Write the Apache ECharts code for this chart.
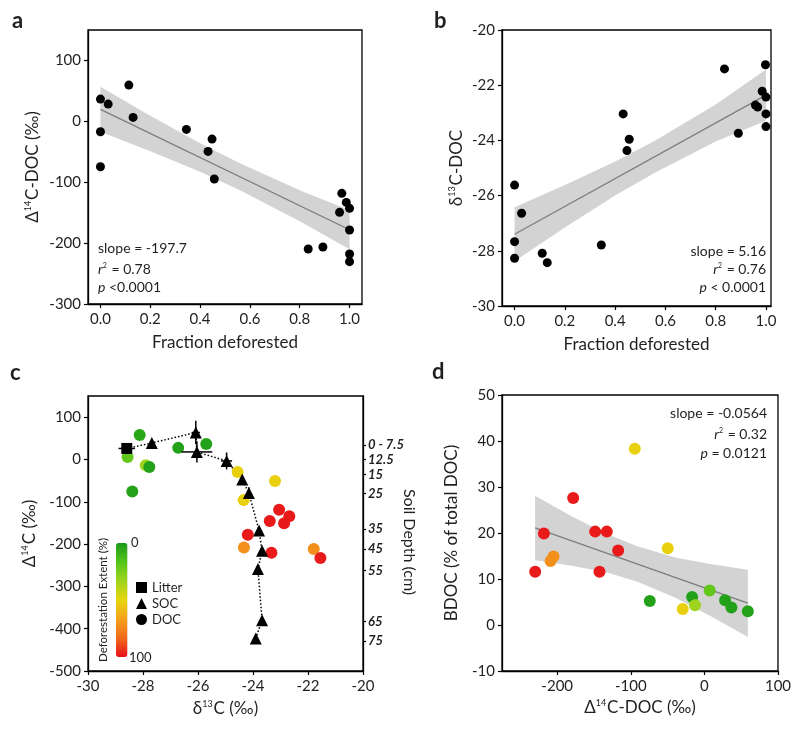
<!DOCTYPE html>
<html><head><meta charset="utf-8">
<script src="https://cdn.jsdelivr.net/npm/echarts@6/dist/echarts.min.js"></script>
<style>html,body{margin:0;padding:0;background:#fff}#chart{width:800px;height:730px}</style>
</head><body><div id="chart"></div>
<script>
const FONT = 'Lato';
const INK = '#231f20';
const TICK = 15;

// ---------- Panel a: fraction deforested vs Δ14C-DOC ----------
const fracA = [0.0, 0.031, 0.114, 0.131, 0.0, 0.0, 0.345, 0.448, 0.432, 0.457, 0.969, 0.987, 1.0, 0.96, 1.0, 0.834, 0.893, 1.0, 1.0];
const d14A  = [36.5, 28.3, 59.5, 6.4, -17.2, -74.6, -13.3, -29.2, -49.4, -94.8, -118.3, -133.1, -142.9, -149.5, -178.5, -209.7, -206.4, -217.9, -230.5];
const fitAX = [0, 1];
const fitAY = [19.6, -178.1];
const bandAX  = [0, 0.2, 0.4, 0.56, 0.8, 1.0];
const bandALo = [-17, -49, -83, -113, -164, -210];
const bandAHi = [57, 9, -36, -69, -113, -146];

// ---------- Panel b: fraction deforested vs δ13C-DOC ----------
const fracB = [0.0, 0.028, 0.0, 0.0, 0.11, 0.13, 0.345, 0.432, 0.456, 0.447, 0.835, 0.998, 0.985, 1.0, 0.958, 0.967, 1.0, 1.0, 0.89];
const d13B  = [-25.62, -26.64, -27.67, -28.27, -28.09, -28.43, -27.79, -23.04, -23.96, -24.37, -21.41, -21.26, -22.22, -22.43, -22.72, -22.79, -23.04, -23.50, -23.74];
const fitBX = [0, 1];
const fitBY = [-27.40, -22.36];
const bandBX  = [0, 0.2, 0.4, 0.56, 0.8, 1.0];
const bandBLo = [-28.38, -27.16, -26.0, -25.16, -24.04, -23.29];
const bandBHi = [-26.42, -25.62, -24.76, -24.0, -22.70, -21.43];

// ---------- Panel c: δ13C vs Δ14C ----------
const docCX  = [-28.12, -28.56, -27.90, -27.77, -28.39, -26.72, -25.70, -24.56, -23.2, -24.34, -24.33, -21.79, -23.05, -22.68, -23.39, -22.87, -24.19, -23.33, -21.55];
const docCY  = [58, 6, -13.7, -17.6, -76, 27.4, 36.8, -29.5, -50.8, -95.8, -207.9, -211.8, -118.7, -134.5, -145.5, -151, -177.9, -220.5, -233];
const docCDef = [5, 20, 33, 3, 3, 3, 3, 52, 52, 52, 72, 72, 98, 98, 98, 98, 98, 98, 98];
const litterX = [-28.59], litterY = [26], litterXErr = [0.3], litterYErr = [12];
const socX = [-27.68, -26.08, -26.04, -24.96, -24.39, -24.15, -23.78, -23.67, -23.82, -23.67, -23.9];
const socY = [39, 63.7, 17.8, -3.5, -47.6, -79.5, -168, -216, -259, -380, -423];
const socXErr = [0, 0.15, 0.56, 0.2, 0, 0, 0, 0, 0, 0, 0];
const socYErr = [0, 28, 25, 20, 8, 14, 0, 0, 0, 0, 0];
const depthPos = [34, 0, -36, -81, -164, -212, -263, -383, -429];
const depthLbl = ['0 - 7.5', '12.5', '15', '25', '35', '45', '55', '65', '75'];

// ---------- Panel d: Δ14C-DOC vs BDOC ----------
const d14D  = [-94.6, -178.3, -218.1, -148.4, -132.6, -117.2, -49.8, -205, -209, -229.9, -142.5, -74.2, -29.4, -16.7, -12.7, 7.2, 28.1, 36.7, 59];
const bdocD = [38.3, 27.6, 19.9, 20.3, 20.3, 16.2, 16.7, 14.9, 13.9, 11.6, 11.6, 5.2, 3.5, 6.1, 4.3, 7.5, 5.4, 3.8, 3.0];
const defD  = [52, 98, 98, 98, 98, 98, 52, 72, 72, 98, 98, 3, 52, 3, 33, 20, 3, 3, 3];
const fitDX = [-230, 59];
const fitDY = [21.1, 4.74];
const bandDX  = [-230, -180, -130, -91, -40, 10, 59];
const bandDLo = [14.1, 12.9, 11.3, 9.4, 6.0, 1.8, -2.6];
const bandDHi = [28.1, 23.6, 19.6, 17.1, 14.7, 13.2, 12.0];

// ticks
const ticksAX = [0, 0.2, 0.4, 0.6, 0.8, 1.0];
const ticksAY = [-300, -200, -100, 0, 100];
const ticksBY = [-30, -28, -26, -24, -22, -20];
const ticksCX = [-30, -28, -26, -24, -22, -20];
const ticksCY = [-500, -400, -300, -200, -100, 0, 100];
const ticksDX = [-200, -100, 0, 100];
const ticksDY = [-10, 0, 10, 20, 30, 40, 50];

const zip = (a, b) => a.map((v, i) => [v, b[i]]);

const RICH = (size) => ({
  t: { fontSize: size, fontFamily: FONT, color: INK },
  i: { fontSize: size, fontFamily: FONT, color: INK, fontStyle: 'italic' },
  s: { fontSize: Math.round(size * 0.5), fontFamily: FONT, color: INK, verticalAlign: 'top', padding: [0, 1, 0, 0] }
});

function valAxis(grid, min, max, ticks, extra) {
  return Object.assign({
    type: 'value', gridIndex: grid, min, max,
    axisLine: { show: true, onZero: false, lineStyle: { color: '#000', width: 1.3 } },
    axisTick: { show: true, inside: false, length: 4, customValues: ticks, lineStyle: { color: '#000', width: 1.2 } },
    axisLabel: { customValues: ticks, fontSize: TICK, fontFamily: FONT, color: INK, margin: 7 },
    splitLine: { show: false },
    nameLocation: 'middle',
    nameTextStyle: { fontSize: 17, fontFamily: FONT, color: INK, rich: RICH(17) }
  }, extra || {});
}

// confidence band: polygon drawn through the axes' scales (upper edge left->right, lower edge right->left)
function band(xi, yi, xs, lo, hi) {
  return { type: 'custom', xAxisIndex: xi, yAxisIndex: yi, silent: true, z: 1,
    data: [[xs[0], lo[0]]],
    renderItem(params, api) {
      const up = xs.map((x, i) => api.coord([x, hi[i]]));
      const dn = xs.map((x, i) => api.coord([x, lo[i]])).reverse();
      return { type: 'group', children: [
        { type: 'polygon', shape: { points: up.concat(dn) }, style: { fill: '#d3d3d3', stroke: null } }
      ] };
    } };
}
function fit(xi, yi, xs, ys) {
  return { type: 'line', xAxisIndex: xi, yAxisIndex: yi, data: zip(xs, ys), showSymbol: false, symbol: 'none',
    lineStyle: { color: '#7d7d7d', width: 1.3 }, silent: true, z: 2 };
}
function dots(xi, yi, xs, ys) {
  return { type: 'scatter', xAxisIndex: xi, yAxisIndex: yi, data: zip(xs, ys), symbol: 'circle', symbolSize: 9,
    itemStyle: { color: '#000', opacity: 1 }, z: 3 };
}

const series = [];
series.push(band(0, 0, bandAX, bandALo, bandAHi), fit(0, 0, fitAX, fitAY), dots(0, 0, fracA, d14A));
series.push(band(1, 1, bandBX, bandBLo, bandBHi), fit(1, 1, fitBX, fitBY), dots(1, 1, fracB, d13B));
// panel c
series.push({ type: 'line', name: 'path', xAxisIndex: 2, yAxisIndex: 2,
  data: zip(litterX.concat(socX), litterY.concat(socY)), showSymbol: false, symbol: 'none',
  lineStyle: { color: '#000', width: 1.5, type: [1.5, 2] }, silent: true, z: 2 });
const idxCDOC = series.length;
series.push({ type: 'scatter', name: 'DOC', xAxisIndex: 2, yAxisIndex: 2,
  data: docCX.map((x, i) => [x, docCY[i], docCDef[i]]), symbol: 'circle', symbolSize: 12, itemStyle: { opacity: 1 }, z: 3 });
series.push({ type: 'custom', name: 'err', xAxisIndex: 2, yAxisIndex: 2, z: 4, silent: true,
  data: litterX.map((x, i) => [x, litterY[i], litterXErr[i], litterYErr[i]])
    .concat(socX.map((x, i) => [x, socY[i], socXErr[i], socYErr[i]])),
  renderItem(params, api) {
    const x = api.value(0), y = api.value(1), ex = api.value(2), ey = api.value(3);
    const ch = [];
    if (ex > 0) {
      const p1 = api.coord([x - ex, y]), p2 = api.coord([x + ex, y]);
      ch.push({ type: 'line', shape: { x1: p1[0], y1: p1[1], x2: p2[0], y2: p2[1] }, style: { stroke: '#000', lineWidth: 1.5 } });
    }
    if (ey > 0) {
      const p1 = api.coord([x, y - ey]), p2 = api.coord([x, y + ey]);
      ch.push({ type: 'line', shape: { x1: p1[0], y1: p1[1], x2: p2[0], y2: p2[1] }, style: { stroke: '#000', lineWidth: 1.5 } });
    }
    return { type: 'group', children: ch };
  } });
series.push({ type: 'scatter', name: 'Litter', xAxisIndex: 2, yAxisIndex: 2, data: zip(litterX, litterY),
  symbol: 'rect', symbolSize: 11, itemStyle: { color: '#000', opacity: 1 }, z: 5 });
series.push({ type: 'scatter', name: 'SOC', xAxisIndex: 2, yAxisIndex: 2, data: zip(socX, socY),
  symbol: 'triangle', symbolSize: 12, itemStyle: { color: '#000', opacity: 1 }, z: 5 });
// panel d
series.push(band(3, 4, bandDX, bandDLo, bandDHi), fit(3, 4, fitDX, fitDY));
const idxDDOC = series.length;
series.push({ type: 'scatter', name: 'DOC d', xAxisIndex: 3, yAxisIndex: 4,
  data: d14D.map((x, i) => [x, bdocD[i], defD[i]]), symbol: 'circle', symbolSize: 12, itemStyle: { opacity: 1 }, z: 3 });

function txt(x, y, text, o) {
  o = o || {};
  const size = o.size || 14;
  return { type: 'text', x, y, rotation: o.rot || 0, silent: true, z: 100,
    style: { text, fontFamily: FONT, fontSize: size, fontWeight: o.weight || 'normal', fill: INK,
      align: o.align || 'left', verticalAlign: 'middle', textAlign: o.align || 'left', textVerticalAlign: 'middle', rich: RICH(size) } };
}

const graphic = [
  txt(12, 21, 'a', { size: 22, weight: 'bold' }),
  txt(434, 21, 'b', { size: 22, weight: 'bold' }),
  txt(10, 373, 'c', { size: 22, weight: 'bold' }),
  txt(432, 372, 'd', { size: 22, weight: 'bold' }),
  txt(98, 248, '{t|slope = -197.7}'),
  txt(98, 269, '{i|r}{s|2}{t| = 0.78}'),
  txt(98, 287, '{i|p}{t| <0.0001}'),
  txt(766, 251, '{t|slope = 5.16}', { align: 'right' }),
  txt(766, 269, '{i|r}{s|2}{t| = 0.76}', { align: 'right' }),
  txt(766, 287, '{i|p}{t| < 0.0001}', { align: 'right' }),
  txt(767, 413, '{t|slope = -0.0564}', { align: 'right' }),
  txt(767, 434, '{i|r}{s|2}{t| = 0.32}', { align: 'right' }),
  txt(767, 453, '{i|p}{t| = 0.0121}', { align: 'right' }),
  txt(131, 543, '0', { size: 13 }),
  txt(129, 658, '100', { size: 13 }),
  txt(103, 600, 'Deforestation Extent (%)', { size: 11.5, rot: Math.PI / 2, align: 'center' }),
  txt(409, 542, 'Soil Depth (cm)', { size: 16, rot: -Math.PI / 2, align: 'center' })
];

const option = {
  animation: false,
  textStyle: { fontFamily: FONT },
  grid: [
    { left: 88, top: 30, width: 274, height: 274, show: true, borderColor: '#000', borderWidth: 1.3, backgroundColor: 'transparent', containLabel: false },
    { left: 502, top: 30, width: 269, height: 276, show: true, borderColor: '#000', borderWidth: 1.3, backgroundColor: 'transparent', containLabel: false },
    { left: 88, top: 396, width: 275, height: 275, show: true, borderColor: '#000', borderWidth: 1.3, backgroundColor: 'transparent', containLabel: false },
    { left: 502, top: 395, width: 276, height: 276, show: true, borderColor: '#000', borderWidth: 1.3, backgroundColor: 'transparent', containLabel: false }
  ],
  xAxis: [
    valAxis(0, -0.05, 1.05, ticksAX, { name: 'Fraction deforested', nameGap: 30,
      axisLabel: { customValues: ticksAX, fontSize: TICK, fontFamily: FONT, color: INK, margin: 8, formatter: v => v.toFixed(1) } }),
    valAxis(1, -0.05, 1.02, ticksAX, { name: 'Fraction deforested', nameGap: 30,
      axisLabel: { customValues: ticksAX, fontSize: TICK, fontFamily: FONT, color: INK, margin: 8, formatter: v => v.toFixed(1) } }),
    valAxis(2, -30, -20, ticksCX, { name: '{t|δ}{s|13}{t|C (‰)}', nameGap: 29,
      axisLabel: { customValues: ticksCX, fontSize: TICK, fontFamily: FONT, color: INK, margin: 8 } }),
    valAxis(3, -275, 100, ticksDX, { name: '{t|Δ}{s|14}{t|C-DOC (‰)}', nameGap: 28,
      axisLabel: { customValues: ticksDX, fontSize: TICK, fontFamily: FONT, color: INK, margin: 8 } })
  ],
  yAxis: [
    valAxis(0, -300, 150, ticksAY, { name: '{t|Δ}{s|14}{t|C-DOC (‰)}', nameGap: 47, nameRotate: 90 }),
    valAxis(1, -30, -20, ticksBY, { name: '{t|δ}{s|13}{t|C-DOC}', nameGap: 37, nameRotate: 90 }),
    valAxis(2, -500, 150, ticksCY, { name: '{t|Δ}{s|14}{t|C (‰)}', nameGap: 50, nameRotate: 90 }),
    { type: 'value', gridIndex: 2, position: 'right', min: -500, max: 150,
      axisLine: { show: true, lineStyle: { color: '#000', width: 1.3 } },
      axisTick: { show: true, inside: false, length: 3, customValues: depthPos, lineStyle: { color: '#000', width: 1.2 } },
      axisLabel: { customValues: depthPos, margin: 5, fontSize: 13, fontWeight: 'bold', fontStyle: 'italic', fontFamily: FONT, color: INK,
        formatter: v => { const k = depthPos.indexOf(v); return k >= 0 ? depthLbl[k] : ''; } },
      splitLine: { show: false } },
    valAxis(3, -10, 50, ticksDY, { name: 'BDOC (% of total DOC)', nameGap: 42, nameRotate: 90 })
  ],
  visualMap: {
    type: 'continuous', min: 0, max: 100, inverse: true, orient: 'vertical', left: 116, top: 543,
    itemWidth: 11.5, itemHeight: 114, padding: 0, calculable: false, text: null, hoverLink: false,
    seriesIndex: [idxCDOC, idxDDOC], dimension: 2,
    inRange: { color: ['#199a19', '#52c41a', '#a0d41e', '#e6d60c', '#f5a01c', '#f06a1a', '#e8101a'] }
  },
  legend: {
    orient: 'vertical', left: 136, top: 581, padding: 0, itemWidth: 11, itemHeight: 11, itemGap: 3, selectedMode: false,
    textStyle: { fontSize: 13, fontFamily: FONT, color: INK },
    data: [
      { name: 'Litter', icon: 'rect', itemStyle: { color: '#000' } },
      { name: 'SOC', icon: 'triangle', itemStyle: { color: '#000' } },
      { name: 'DOC', icon: 'circle', itemStyle: { color: '#000' } }
    ]
  },
  graphic,
  series
};

const chart = echarts.init(document.getElementById('chart'), null, { renderer: 'canvas' });
chart.setOption(option);
</script>
</body></html>
